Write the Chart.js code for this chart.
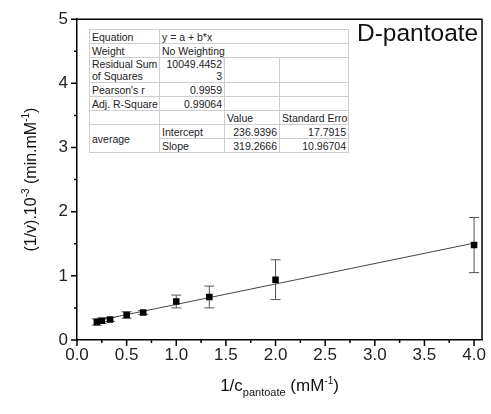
<!DOCTYPE html>
<html>
<head>
<meta charset="utf-8">
<script src="https://cdn.jsdelivr.net/npm/chart.js@4/dist/chart.umd.min.js"></script>
<style>
  body { margin: 0; background: #fff; }
  #wrap { position: relative; width: 491px; height: 414px; }
  #stats {
    position: absolute; left: 89px; top: 29px; width: 259px;
    border-collapse: collapse; table-layout: fixed; background: #fff;
    font: 10.5px "Liberation Sans", Arial, sans-serif; color: #222;
    border: 1px solid #8a8a8a;
  }
  #stats td {
    border: 1px solid #cfcfcf; padding: 0 2px; height: 13px; line-height: 12px;
    white-space: nowrap; overflow: hidden;
  }
  #stats td.r { text-align: right; }
  #tag {
    position: absolute; left: 357px; top: 19px;
    font: 24.5px "Liberation Sans", Arial, sans-serif; color: #111;
  }
</style>
</head>
<body>
<div id="wrap">
  <canvas id="chart" width="491" height="414"></canvas>
  <table id="stats">
    <colgroup><col style="width:70px"><col style="width:65px"><col style="width:55px"><col style="width:69px"></colgroup>
    <tr><td>Equation</td><td colspan="3">y = a + b*x</td></tr>
    <tr><td>Weight</td><td colspan="3">No Weighting</td></tr>
    <tr><td style="height:24px">Residual Sum<br>of Squares</td><td class="r">10049.4452<br>3</td><td></td><td></td></tr>
    <tr><td>Pearson's r</td><td class="r">0.9959</td><td></td><td></td></tr>
    <tr><td>Adj. R-Square</td><td class="r">0.99064</td><td></td><td></td></tr>
    <tr><td></td><td></td><td>Value</td><td>Standard Error</td></tr>
    <tr><td rowspan="2">average</td><td>Intercept</td><td class="r">236.9396</td><td class="r">17.7915</td></tr>
    <tr><td>Slope</td><td class="r">319.2666</td><td class="r">10.96704</td></tr>
  </table>
  <div id="tag">D-pantoate</div>
</div>
<script>
// measured points (1/c in mM^-1, 1/v in 10^3 min.mM^-1)
var xValues = [0.2, 0.25, 0.333, 0.5, 0.667, 1.0, 1.333, 2.0, 4.0];
var yValues = [0.28, 0.30, 0.32, 0.39, 0.43, 0.60, 0.67, 0.94, 1.48];
var yErrors = [0.05, 0.04, 0.03, 0.05, 0.03, 0.10, 0.17, 0.31, 0.43];

// linear fit end points
var fitX = [0.2, 4.0];
var fitY = [0.30, 1.51];

var xTicks = [0, 0.5, 1.0, 1.5, 2.0, 2.5, 3.0, 3.5, 4.0];
var yTicks = [0, 1, 2, 3, 4, 5];

var FONT = '"Liberation Sans", Arial, sans-serif';

function drawRich(ctx, parts, cx, cy) {
    var w = 0;
    parts.forEach(function (p) {
        ctx.font = p.size + 'px ' + FONT;
        p.w = ctx.measureText(p.t).width;
        w += p.w;
    });
    var xx = cx - w / 2;
    ctx.textAlign = 'left';
    ctx.textBaseline = 'alphabetic';
    parts.forEach(function (p) {
        ctx.font = p.size + 'px ' + FONT;
        ctx.fillText(p.t, xx, cy + (p.dy || 0));
        xx += p.w;
    });
}

var plotFrame = {
    id: 'plotFrame',
    beforeDatasetsDraw: function (chart) {
        var ctx = chart.ctx, x = chart.scales.x, y = chart.scales.y;
        ctx.save();
        ctx.strokeStyle = '#555';
        ctx.lineWidth = 1;
        for (var i = 0; i < xValues.length; i++) {
            var px = x.getPixelForValue(xValues[i]);
            var top = y.getPixelForValue(yValues[i] + yErrors[i]);
            var bot = y.getPixelForValue(yValues[i] - yErrors[i]);
            ctx.beginPath();
            ctx.moveTo(px, top); ctx.lineTo(px, bot);
            ctx.moveTo(px - 5, top); ctx.lineTo(px + 5, top);
            ctx.moveTo(px - 5, bot); ctx.lineTo(px + 5, bot);
            ctx.stroke();
        }
        ctx.restore();
    },
    afterDraw: function (chart) {
        var ctx = chart.ctx, a = chart.chartArea, x = chart.scales.x, y = chart.scales.y;
        ctx.save();
        ctx.strokeStyle = '#000';
        ctx.lineWidth = 1.5;
        ctx.beginPath();
        ctx.moveTo(a.left, a.top); ctx.lineTo(a.right, a.top); ctx.lineTo(a.right, a.bottom);
        ctx.stroke();

        // major and minor ticks
        ctx.beginPath();
        xTicks.forEach(function (v, i) {
            var px = x.getPixelForValue(v);
            ctx.moveTo(px, a.bottom); ctx.lineTo(px, a.bottom + 6);
            if (i > 0) {
                var m = x.getPixelForValue((v + xTicks[i - 1]) / 2);
                ctx.moveTo(m, a.bottom); ctx.lineTo(m, a.bottom + 3);
            }
        });
        yTicks.forEach(function (v, i) {
            var py = y.getPixelForValue(v);
            ctx.moveTo(a.left, py); ctx.lineTo(a.left - 6, py);
            if (i > 0) {
                var m = y.getPixelForValue((v + yTicks[i - 1]) / 2);
                ctx.moveTo(a.left, m); ctx.lineTo(a.left - 3, m);
            }
        });
        ctx.stroke();

        // axis titles
        ctx.fillStyle = '#111';
        drawRich(ctx, [
            {t: '1/c', size: 17},
            {t: 'pantoate', size: 11, dy: 5},
            {t: ' (mM', size: 17},
            {t: '-1', size: 10, dy: -7},
            {t: ')', size: 17}
        ], (a.left + a.right) / 2, 391);

        ctx.translate(30, (a.top + a.bottom) / 2);
        ctx.rotate(-Math.PI / 2);
        drawRich(ctx, [
            {t: '(1/v).10', size: 16},
            {t: '-3', size: 10, dy: -7},
            {t: ' (min.mM', size: 16},
            {t: '-1', size: 10, dy: -7},
            {t: ')', size: 16}
        ], 0, 6);
        ctx.restore();
    }
};

var points = xValues.map(function (v, i) { return {x: v, y: yValues[i]}; });
var fitLine = fitX.map(function (v, i) { return {x: v, y: fitY[i]}; });

new Chart(document.getElementById('chart'), {
    type: 'scatter',
    data: {
        datasets: [{
            label: 'average',
            data: points,
            pointStyle: 'rect',
            pointRadius: 4.6,
            backgroundColor: '#000',
            borderColor: '#000',
            borderWidth: 0,
            order: 0
        }, {
            label: 'Linear fit',
            type: 'line',
            data: fitLine,
            borderColor: '#444',
            borderWidth: 1,
            pointRadius: 0,
            fill: false,
            order: 1
        }]
    },
    options: {
        responsive: false,
        animation: false,
        layout: {padding: {top: 13, right: 6, left: 0, bottom: 0}},
        plugins: {legend: {display: false}, tooltip: {enabled: false}},
        scales: {
            x: {
                type: 'linear', min: 0, max: 4.08,
                afterBuildTicks: function (s) { s.ticks = xTicks.map(function (v) { return {value: v}; }); },
                afterFit: function (s) { s.height = 74; },
                grid: {display: false, drawTicks: false},
                border: {display: true, color: '#000', width: 1.5},
                ticks: {
                    padding: 5, color: '#222', font: {family: FONT, size: 17},
                    maxRotation: 0,
                    callback: function (v) { return Number(v).toFixed(1); }
                }
            },
            y: {
                type: 'linear', min: 0, max: 5,
                afterBuildTicks: function (s) { s.ticks = yTicks.map(function (v) { return {value: v}; }); },
                afterFit: function (s) { s.width = 77; },
                grid: {display: false, drawTicks: false},
                border: {display: true, color: '#000', width: 1.5},
                ticks: {
                    padding: 9, color: '#222', font: {family: FONT, size: 17},
                    callback: function (v) { return String(v); }
                }
            }
        }
    },
    plugins: [plotFrame]
});
</script>
</body>
</html>
